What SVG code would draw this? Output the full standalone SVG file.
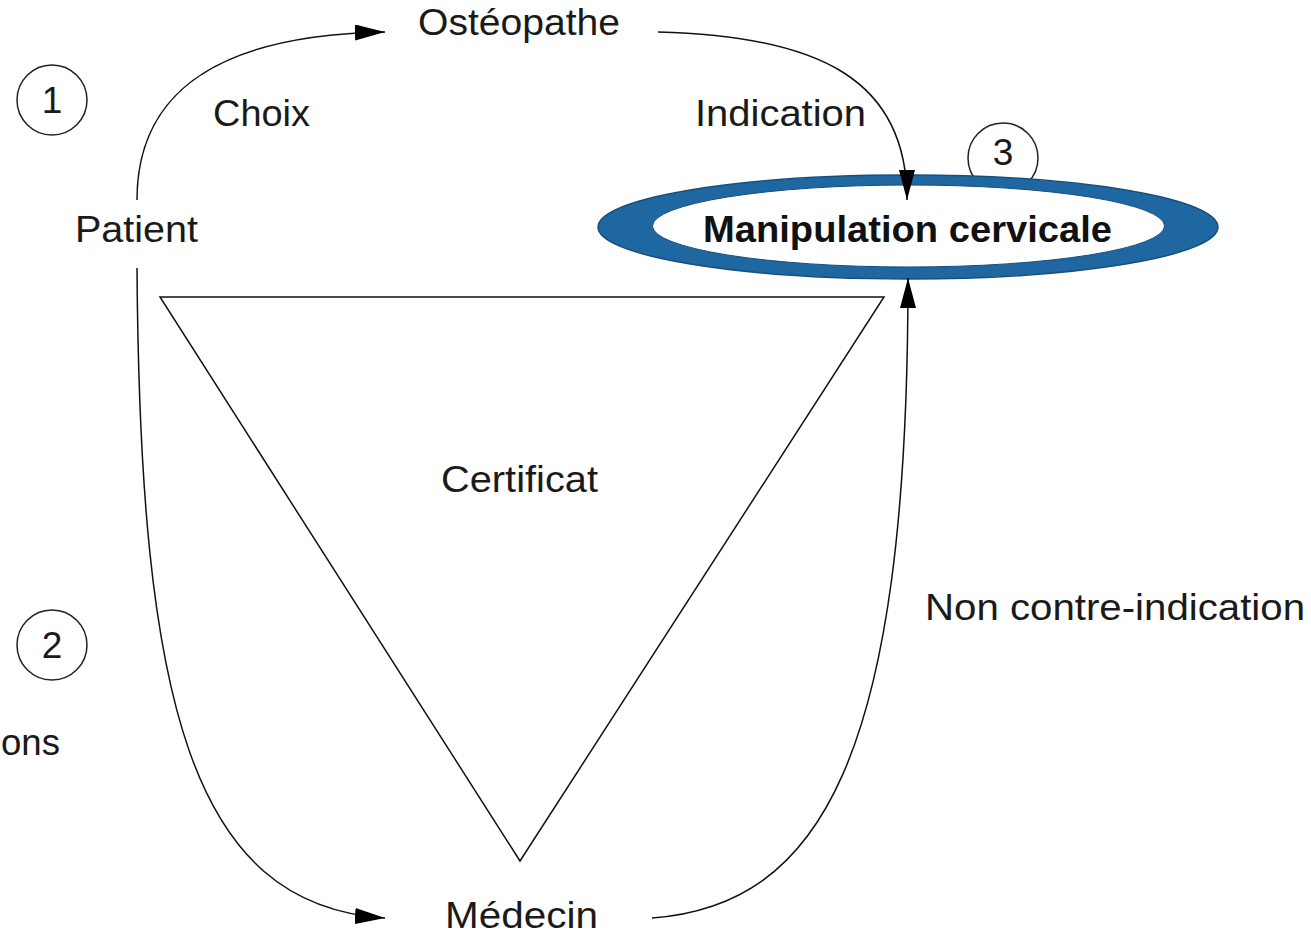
<svg xmlns="http://www.w3.org/2000/svg" width="1311" height="934" viewBox="0 0 1311 934">
<style>
  .t { font-family: "Liberation Sans", Arial, sans-serif; font-size: 37px; fill: #1a1a1a; }
  .b { font-family: "Liberation Sans", Arial, sans-serif; font-size: 37px; font-weight: bold; fill: #111; }
  .c { fill: none; stroke: #222; stroke-width: 1.5; }
  .ln { fill: none; stroke: #111; stroke-width: 1.5; }
</style>
<defs>
  <marker id="ah" viewBox="0 0 30 16" refX="30" refY="8" markerWidth="30" markerHeight="16" markerUnits="userSpaceOnUse" orient="auto">
    <path d="M0,0 L30,8 L0,16 Z" fill="#000"/>
  </marker>
</defs>
<rect width="1311" height="934" fill="#fff"/>

<g id="badge1">
  <circle class="c" cx="52" cy="100" r="35"/>
  <text class="t" x="52" y="113" text-anchor="middle">1</text>
</g>
<g id="badge2">
  <circle class="c" cx="52" cy="645" r="35"/>
  <text class="t" x="52" y="658" text-anchor="middle">2</text>
</g>
<g id="badge3">
  <circle class="c" cx="1003" cy="158" r="35"/>
  <text class="t" x="1003" y="165" text-anchor="middle">3</text>
</g>

<g id="certificat">
  <polygon class="ln" points="160,297 884,297 520,861"/>
  <text class="t" x="441" y="492" textLength="157" lengthAdjust="spacingAndGlyphs">Certificat</text>
</g>

<g id="manipulation">
  <ellipse cx="908" cy="227" rx="310" ry="52" fill="#1f67a0" stroke="#174e7c" stroke-width="1.5"/>
  <ellipse cx="908.5" cy="226" rx="256" ry="41" fill="#fff" stroke="#174e7c" stroke-width="1"/>
  <text class="b" x="703" y="242" textLength="409" lengthAdjust="spacingAndGlyphs">Manipulation cervicale</text>
</g>

<g id="patient">
  <text class="t" x="75" y="242" textLength="123" lengthAdjust="spacingAndGlyphs">Patient</text>
</g>
<g id="osteopathe">
  <text class="t" x="418" y="35" textLength="202" lengthAdjust="spacingAndGlyphs">Ostéopathe</text>
</g>
<g id="medecin">
  <text class="t" x="445" y="928" textLength="153" lengthAdjust="spacingAndGlyphs">Médecin</text>
</g>
<g id="ons">
  <text class="t" x="1" y="755" textLength="59" lengthAdjust="spacingAndGlyphs">ons</text>
</g>

<g id="connectors">
  <path class="ln" d="M137,200 C137,90 220,35 385,32" marker-end="url(#ah)"/>
  <path class="ln" d="M658,32 C820,36 907,80 907,200" marker-end="url(#ah)"/>
  <path class="ln" d="M137,268 C140,700 190,905 385,918" marker-end="url(#ah)"/>
  <path class="ln" d="M652,918 C820,905 908,760 908,278" marker-end="url(#ah)"/>
  <text class="t" x="213" y="126" textLength="97" lengthAdjust="spacingAndGlyphs">Choix</text>
  <text class="t" x="695" y="126" textLength="171" lengthAdjust="spacingAndGlyphs">Indication</text>
  <text class="t" x="925" y="620" textLength="380" lengthAdjust="spacingAndGlyphs">Non contre-indication</text>
</g>
</svg>
